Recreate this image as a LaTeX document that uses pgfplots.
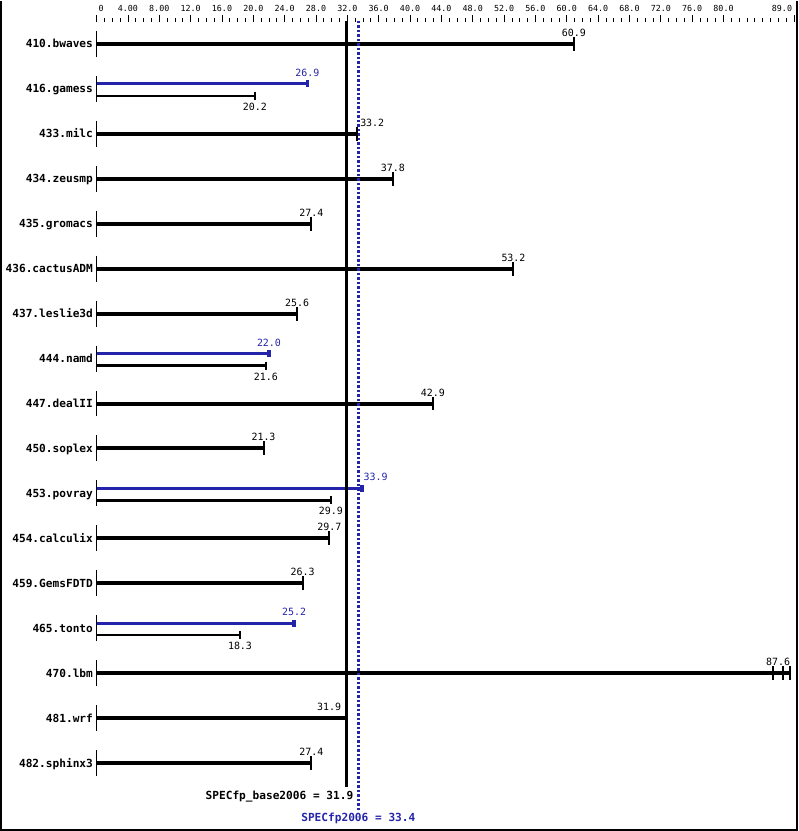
\documentclass[border=0pt]{standalone}
\usepackage{fontspec}
\setmonofont{DejaVu Sans Mono}
\usepackage{pgfplots}
\pgfplotsset{compat=1.18}
\definecolor{specblue}{RGB}{36,36,170}
\pgfplotsset{
  thickbar/.style={black, line width=4bp, mark=|, mark indices={2}, mark size=7bp, mark options={line width=2bp, solid}},
  bluebar/.style={specblue, line width=3bp, mark=|, mark indices={2}, mark size=3.5bp, mark options={line width=3.5bp, solid}},
  thinbar/.style={black, line width=2.5bp, mark=|, mark indices={2}, mark size=4bp, mark options={line width=2bp, solid}},
  startline/.style={black, line width=1.6bp},
}
\tikzset{
  vlab/.style={pos=1, anchor=base, inner sep=0pt, font=\ttfamily\fontsize{10}{11}\selectfont, yshift=7.5bp},
  vlabb/.style={pos=1, anchor=base, inner sep=0pt, font=\ttfamily\fontsize{10}{11}\selectfont, yshift=-14.5bp},
}
\begin{document}
\begin{tikzpicture}
\begin{axis}[
  scale only axis, width=698.3bp, height=808bp,
  xmin=0, xmax=89, ymin=-17.4667, ymax=0.4889,
  clip=false,
  axis x line*=top, axis y line*=left,
  x axis line style={draw=none}, y axis line style={draw=none},
  xtick={0,4,8,12,16,20,24,28,32,36,40,44,48,52,56,60,64,68,72,76,80,89},
  xticklabels={\makebox[0pt][l]{\hspace{2bp}0},4.00,8.00,12.0,16.0,20.0,24.0,28.0,32.0,36.0,40.0,44.0,48.0,52.0,56.0,60.0,64.0,68.0,72.0,76.0,80.0,\makebox[0pt][r]{89.0\hspace{2bp}}},
  minor xtick={0,1,...,89},
  tick align=outside,
  major tick length=7bp, minor tick length=4bp,
  xtick style={black, line width=0.8bp},
  xticklabel style={font=\ttfamily\fontsize{8.4}{9}\selectfont, inner sep=0pt, yshift=3.5bp},
  ytick={0,-1,-2,-3,-4,-5,-6,-7,-8,-9,-10,-11,-12,-13,-14,-15,-16},
  yticklabels={410.bwaves,416.gamess,433.milc,434.zeusmp,435.gromacs,436.cactusADM,437.leslie3d,444.namd,447.dealII,450.soplex,453.povray,454.calculix,459.GemsFDTD,465.tonto,470.lbm,481.wrf,482.sphinx3},
  ytick style={draw=none},
  yticklabel style={font=\ttfamily\bfseries\fontsize{11.2}{12}\selectfont, anchor=base east, inner sep=0pt, yshift=-4bp, xshift=3.5bp},
]
% 410.bwaves
\addplot[startline] coordinates {(0,0.289) (0,-0.289)};
\addplot[thickbar] coordinates {(0,0) (60.9,0)} node[vlab]{60.9};
% 416.gamess
\addplot[startline] coordinates {(0,-0.711) (0,-1.289)};
\addplot[bluebar] coordinates {(0,-0.889) (26.9,-0.889)} node[vlab, text=specblue]{26.9};
\addplot[thinbar] coordinates {(0,-1.156) (20.2,-1.156)} node[vlabb]{20.2};
% 433.milc
\addplot[startline] coordinates {(0,-1.711) (0,-2.289)};
\addplot[thickbar] coordinates {(0,-2) (33.2,-2)} node[vlab, anchor=base west, xshift=1.5bp]{33.2};
% 434.zeusmp
\addplot[startline] coordinates {(0,-2.711) (0,-3.289)};
\addplot[thickbar] coordinates {(0,-3) (37.8,-3)} node[vlab]{37.8};
% 435.gromacs
\addplot[startline] coordinates {(0,-3.711) (0,-4.289)};
\addplot[thickbar] coordinates {(0,-4) (27.4,-4)} node[vlab]{27.4};
% 436.cactusADM
\addplot[startline] coordinates {(0,-4.711) (0,-5.289)};
\addplot[thickbar] coordinates {(0,-5) (53.2,-5)} node[vlab]{53.2};
% 437.leslie3d
\addplot[startline] coordinates {(0,-5.711) (0,-6.289)};
\addplot[thickbar] coordinates {(0,-6) (25.6,-6)} node[vlab]{25.6};
% 444.namd
\addplot[startline] coordinates {(0,-6.711) (0,-7.289)};
\addplot[bluebar] coordinates {(0,-6.889) (22.0,-6.889)} node[vlab, text=specblue]{22.0};
\addplot[thinbar] coordinates {(0,-7.156) (21.6,-7.156)} node[vlabb]{21.6};
% 447.dealII
\addplot[startline] coordinates {(0,-7.711) (0,-8.289)};
\addplot[thickbar] coordinates {(0,-8) (42.9,-8)} node[vlab]{42.9};
% 450.soplex
\addplot[startline] coordinates {(0,-8.711) (0,-9.289)};
\addplot[thickbar] coordinates {(0,-9) (21.3,-9)} node[vlab]{21.3};
% 453.povray
\addplot[startline] coordinates {(0,-9.711) (0,-10.289)};
\addplot[bluebar] coordinates {(0,-9.889) (33.9,-9.889)} node[vlab, text=specblue, anchor=base west, xshift=0bp]{33.9};
\addplot[thinbar] coordinates {(0,-10.156) (29.9,-10.156)} node[vlabb]{29.9};
% 454.calculix
\addplot[startline] coordinates {(0,-10.711) (0,-11.289)};
\addplot[thickbar] coordinates {(0,-11) (29.7,-11)} node[vlab]{29.7};
% 459.GemsFDTD
\addplot[startline] coordinates {(0,-11.711) (0,-12.289)};
\addplot[thickbar] coordinates {(0,-12) (26.3,-12)} node[vlab]{26.3};
% 465.tonto
\addplot[startline] coordinates {(0,-12.711) (0,-13.289)};
\addplot[bluebar] coordinates {(0,-12.889) (25.2,-12.889)} node[vlab, text=specblue]{25.2};
\addplot[thinbar] coordinates {(0,-13.156) (18.3,-13.156)} node[vlabb]{18.3};
% 470.lbm
\addplot[startline] coordinates {(0,-13.711) (0,-14.289)};
\addplot[black, line width=4bp] coordinates {(87.6,-14) (88.5,-14)};
\addplot[black, only marks, mark=|, mark size=7bp, mark options={line width=2bp}] coordinates {(86.3,-14) (88.5,-14)};
\addplot[thickbar] coordinates {(0,-14) (87.6,-14)} node[vlab, xshift=-5bp]{87.6};
% 481.wrf
\addplot[startline] coordinates {(0,-14.711) (0,-15.289)};
\addplot[thickbar] coordinates {(0,-15) (31.9,-15)} node[vlab, anchor=base east, xshift=-3.5bp]{31.9};
% 482.sphinx3
\addplot[startline] coordinates {(0,-15.711) (0,-16.289)};
\addplot[thickbar] coordinates {(0,-16) (27.4,-16)} node[vlab]{27.4};
% reference lines
\addplot[black, line width=2.5bp] coordinates {(31.9,0.511) (31.9,-16.533)}
  node[pos=1, anchor=base east, inner sep=0pt, xshift=8bp, yshift=-12bp, font=\ttfamily\bfseries\fontsize{11.2}{12}\selectfont]{SPECfp\_base2006 = 31.9};
\addplot[specblue, line width=2.5bp, dash pattern=on 2.5bp off 2bp] coordinates {(33.4,0.511) (33.4,-17.089)}
  node[pos=1, anchor=base, inner sep=0pt, yshift=-9bp, text=specblue, font=\ttfamily\bfseries\fontsize{11.2}{12}\selectfont]{SPECfp2006 = 33.4};
% frame
\draw[black, line width=2bp] (axis cs:-12.197,0.9556) -- (axis cs:-12.197,-17.489) -- (axis cs:89.32,-17.489) -- (axis cs:89.32,0.9556);
\path (axis cs:-12.325,0.9556) rectangle (axis cs:89.51,-17.511);
\end{axis}
\end{tikzpicture}
\end{document}
